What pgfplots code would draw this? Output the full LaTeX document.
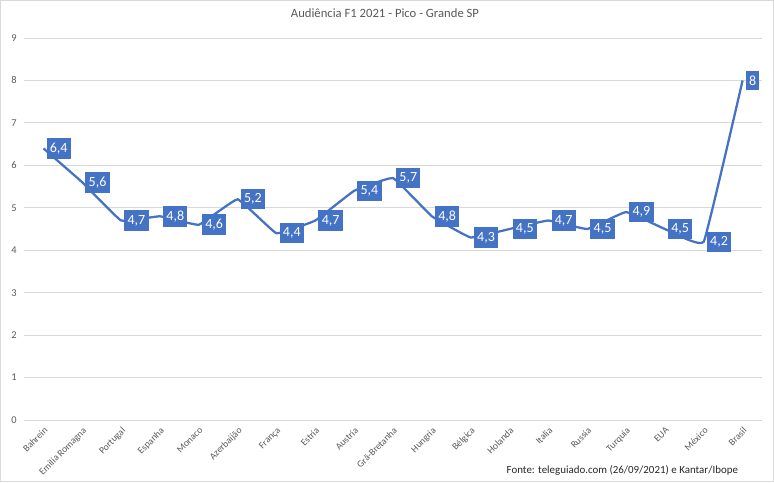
\documentclass[border=0pt]{standalone}
\usepackage{fontspec}
\setmainfont{Carlito}
\usepackage{pgfplots}
\pgfplotsset{compat=1.18}
\definecolor{linha}{HTML}{4472C4}
\definecolor{grade}{HTML}{D9D9D9}
\definecolor{texto}{HTML}{595959}

\begin{document}
\begin{tikzpicture}
\useasboundingbox (0pt,0pt) rectangle (580.5pt,361.5pt);
\draw[grade, line width=0.75pt] (0.4pt,0.4pt) rectangle (580.1pt,361.1pt);
\node[texto, font=\fontsize{9.5}{11}\selectfont] at (288.75pt,351.75pt) {Audiência F1 2021 - Pico - Grande SP};
\node[anchor=east, text=black!85, font=\fontsize{8.2}{10}\selectfont] at (557pt,9pt) {Fonte: teleguiado.com (26/09/2021) e Kantar/Ibope};
\begin{axis}[
    at={(18pt,46.5pt)}, anchor=south west,
    scale only axis, width=553.5pt, height=286.5pt,
    xmin=-0.5, xmax=18.5, ymin=0, ymax=9,
    ytick={0,...,9},
    xtick={0,...,18},
    xticklabels={Bahrein, Emilia Romagna, Portugal, Espanha, Monaco, Azerbaijão, França, Estria, Austria, Grã-Bretanha, Hungria, Bélgica, Holanda, Italia, Russia, Turquia, EUA, México, Brasil},
    x tick label style={rotate=45, anchor=north east, texto, font=\fontsize{7.2}{8}\selectfont},
    y tick label style={texto, font=\fontsize{7.8}{9}\selectfont, xshift=-2pt},
    major tick length=0pt,
    axis line style={draw=none},
    ymajorgrids, grid style={grade, line width=0.75pt},
    clip=false,
    /pgf/number format/.cd, use comma, assume math mode=true,
]
\addplot[linha, line width=1.7pt, smooth, tension=0.15,
    nodes near coords, nodes near coords align={horizontal},
    every node near coord/.append style={anchor=west, fill=linha, text=white,
        font=\fontsize{10.5}{12}\selectfont, inner xsep=2.5pt, inner ysep=3.5pt, xshift=1.5pt}]
coordinates {(0,6.4) (1,5.6) (2,4.7) (3,4.8) (4,4.6) (5,5.2) (6,4.4) (7,4.7) (8,5.4) (9,5.7)
 (10,4.8) (11,4.3) (12,4.5) (13,4.7) (14,4.5) (15,4.9) (16,4.5) (17,4.2) (18,8)};
\end{axis}
\end{tikzpicture}
\end{document}
